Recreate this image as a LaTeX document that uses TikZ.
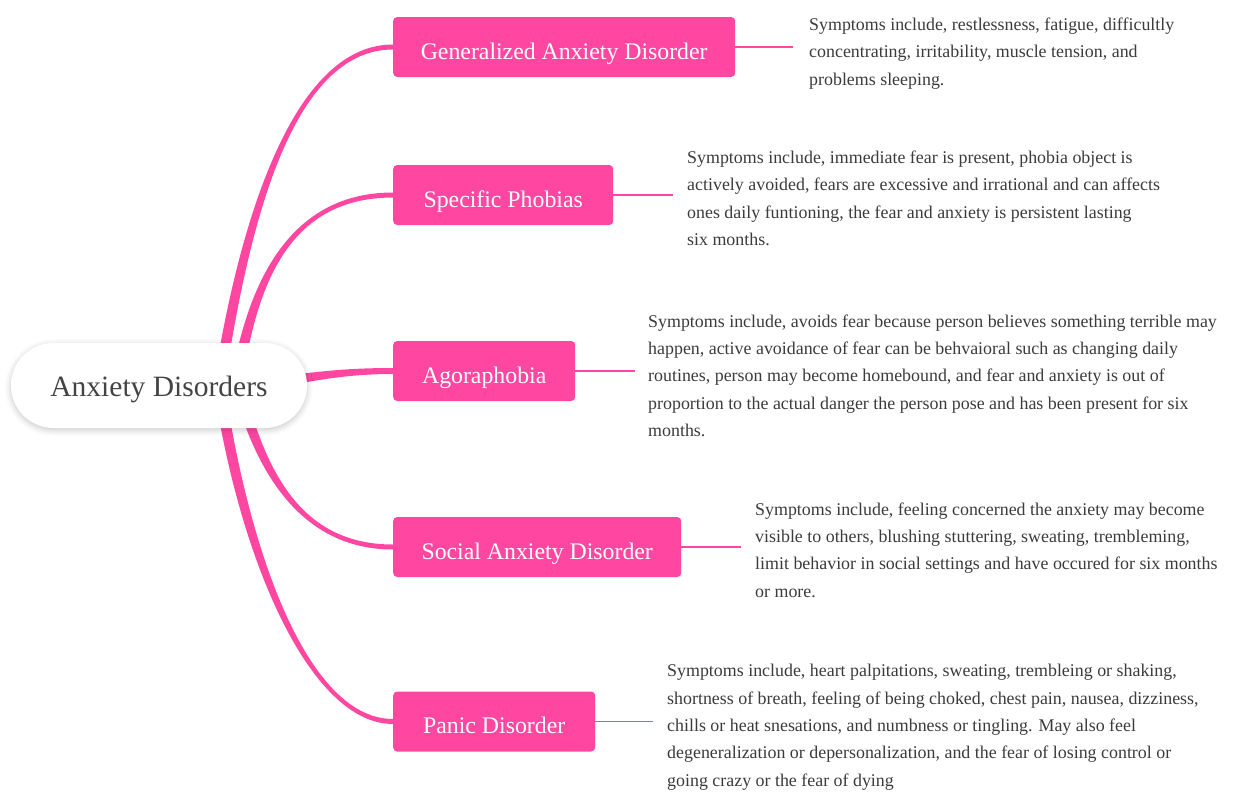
\documentclass[tikz,border=0pt]{standalone}
\usepackage{fontspec}
\setmainfont{Liberation Serif}
\usetikzlibrary{calc,backgrounds,shadows.blur}
\definecolor{pinkc}{HTML}{FF47A2}
\definecolor{txt}{HTML}{3B3B3B}
\definecolor{ctxt}{HTML}{444444}
\tikzset{
  centernode/.style={fill=white, rounded corners=42.5pt, minimum width=296pt, minimum height=85pt, inner sep=0pt,
    font=\fontsize{29.5}{34}\selectfont, text=ctxt, text height=22pt, text depth=0pt,
    blur shadow={shadow xshift=0pt, shadow yshift=-2pt, shadow blur radius=6pt, shadow opacity=22}},
  topic/.style={fill=pinkc, rounded corners=4pt, minimum height=60pt, inner sep=0pt, text=white,
    font=\fontsize{23.8}{28}\selectfont, text height=24pt, text depth=0pt, anchor=west},
  desc/.style={align=left, anchor=base west, inner sep=0pt, text=txt, font=\fontsize{17.9}{27.4}\selectfont},
  leader/.style={draw=pinkc, line width=1.5pt},
  branch/.style={fill=pinkc}
}
\newcommand\taperpath[6]{\fill[branch] ($#1+#5$) .. controls ($#2+#5$) and ($#3+#6$) .. ($#4+#6$) -- ($#4-#6$) .. controls ($#3-#6$) and ($#2-#5$) .. ($#1-#5$) -- cycle;}
\begin{document}
\begin{tikzpicture}[x=1pt,y=-1pt]
\useasboundingbox (0,0) rectangle (1240,796);

\node[centernode] (c) at (159,385.5) {Anxiety Disorders};

\node[topic, minimum width=342pt] (g1) at (393,47) {Generalized Anxiety Disorder};
\node[topic, minimum width=220pt] (g2) at (393,195) {Specific Phobias};
\node[topic, minimum width=182pt] (g3) at (393,371) {Agoraphobia};
\node[topic, minimum width=288pt] (g4) at (393,547) {Social Anxiety Disorder};
\node[topic, minimum width=202pt] (g5) at (393,721.5) {Panic Disorder};

\coordinate (e1) at ($(g1.east)+(58,0)$);
\coordinate (e2) at ($(g2.east)+(60,0)$);
\coordinate (e3) at ($(g3.east)+(60,0)$);
\coordinate (e4) at ($(g4.east)+(60,0)$);
\coordinate (e5) at ($(g5.east)+(58,0)$);
\draw[leader] (g1.east) -- (e1);
\draw[leader] (g2.east) -- (e2);
\draw[leader] (g3.east) -- (e3);
\draw[leader] (g4.east) -- (e4);
\draw[leader] (g5.east) -- (e5);

% base anchor of a multi-line node = baseline of its last line
\node[desc] (d1) at (809,85) {Symptoms include, restlessness, fatigue, difficultly\\concentrating, irritability, muscle tension, and\\problems sleeping.};
\node[desc] (d2) at (687,245.5) {Symptoms include, immediate fear is present, phobia object is\\actively avoided, fears are excessive and irrational and can affects\\ones daily funtioning, the fear and anxiety is persistent lasting\\six months.};
\node[desc] (d3) at (648,436.6) {Symptoms include, avoids fear because person believes something terrible may\\happen, active avoidance of fear can be behvaioral such as changing daily\\routines, person may become homebound, and fear and anxiety is out of\\proportion to the actual danger the person pose and has been present for six\\months.};
\node[desc] (d4) at (755,597.2) {Symptoms include, feeling concerned the anxiety may become\\visible to others, blushing stuttering, sweating, trembleming,\\limit behavior in social settings and have occured for six months\\or more.};
\node[desc] (d5) at (667,786.3) {Symptoms include, heart palpitations, sweating, trembleing or shaking,\\shortness of breath, feeling of being choked, chest pain, nausea, dizziness,\\chills or heat snesations, and numbness or tingling. May also feel\\degeneralization or depersonalization, and the fear of losing control or\\going crazy or the fear of dying};

\begin{scope}[on background layer]
\coordinate (r1) at (219,385);
\coordinate (r2) at (236,385);
\coordinate (r3) at (235,388);
\coordinate (r4) at (238,385);
\coordinate (r5) at (219,385);
\taperpath{(r1)}{(240,250)}{(285,47)}{(g1.west)}{(-5.5,0)}{(0,-2.5)}
\taperpath{(r2)}{(250,300)}{(280,195)}{(g2.west)}{(-5.5,0)}{(0,-2.5)}
\taperpath{(r3)}{(300,380)}{(330,371)}{(g3.west)}{(0,-5.5)}{(0,-3)}
\taperpath{(r4)}{(260,470)}{(300,547)}{(g4.west)}{(-5.5,0)}{(0,2.5)}
\taperpath{(r5)}{(245,560)}{(310,721.5)}{(g5.west)}{(-5.5,0)}{(0,2.5)}
\end{scope}
\end{tikzpicture}
\end{document}
